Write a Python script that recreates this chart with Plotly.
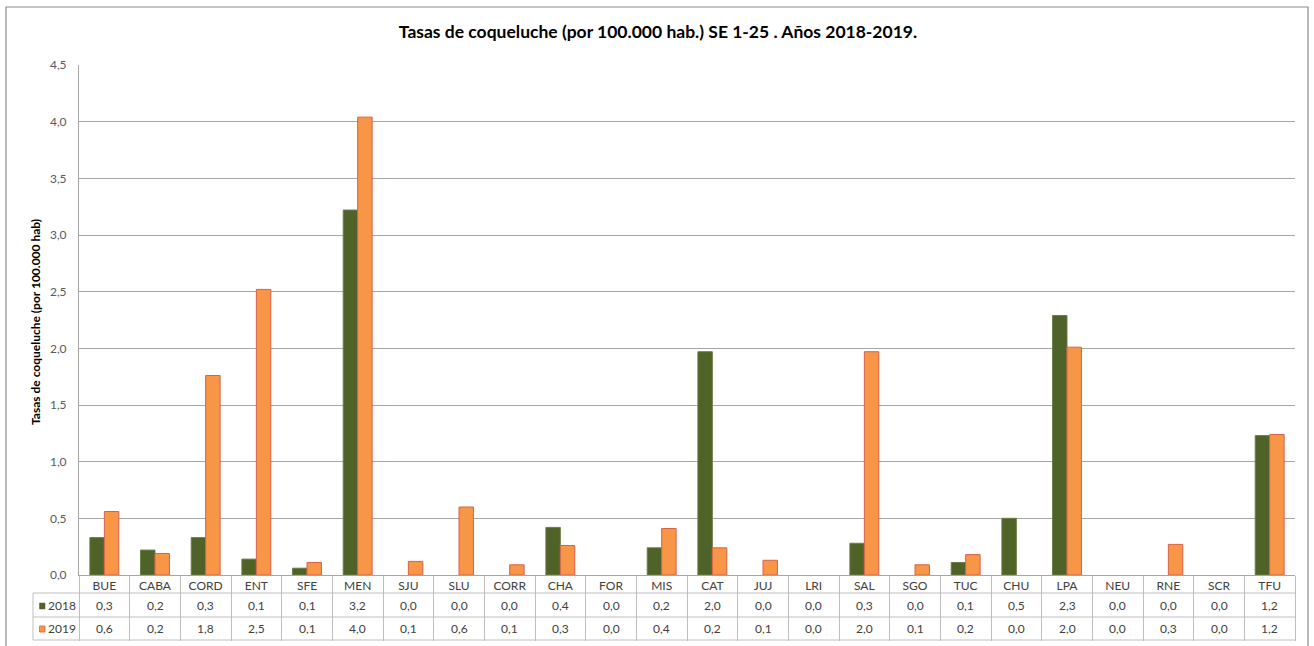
import plotly.graph_objects as go

categories = ["BUE", "CABA", "CORD", "ENT", "SFE", "MEN", "SJU", "SLU", "CORR", "CHA", "FOR", "MIS",
              "CAT", "JUJ", "LRI", "SAL", "SGO", "TUC", "CHU", "LPA", "NEU", "RNE", "SCR", "TFU"]
rates_2018 = [0.33, 0.22, 0.33, 0.14, 0.06, 3.22, 0, 0, 0, 0.42, 0, 0.24,
              1.97, 0, 0, 0.28, 0, 0.11, 0.50, 2.29, 0, 0, 0, 1.23]
rates_2019 = [0.56, 0.19, 1.76, 2.52, 0.11, 4.04, 0.12, 0.60, 0.09, 0.26, 0, 0.41,
              0.24, 0.13, 0, 1.97, 0.09, 0.18, 0, 2.01, 0, 0.27, 0, 1.24]
series_names = ["2018", "2019"]
y_ticks = [0, 0.5, 1.0, 1.5, 2.0, 2.5, 3.0, 3.5, 4.0, 4.5]

GREEN = "#4F6228"
ORANGE = "#F79646"
FONT = "Lato"
TXT = "#404040"

fig = go.Figure()
fig.add_trace(go.Bar(x=categories, y=rates_2018, name=series_names[0],
                     marker=dict(color=GREEN,
                                 line=dict(color="#6b7d45", width=[0 if v == 0 else 1 for v in rates_2018]))))
fig.add_trace(go.Bar(x=categories, y=rates_2019, name=series_names[1],
                     marker=dict(color=ORANGE,
                                 line=dict(color="#d9604a", width=[0 if v == 0 else 1 for v in rates_2019]))))

W, H = 1314, 646
L, R, T, B = 79, 1295, 65, 575  # plot area in pixels


def px(x):
    return (x - L) / (R - L)


def py(y):
    return (B - y) / (B - T)


shapes = []
# outer chart border
shapes.append(dict(type="rect", xref="paper", yref="paper", x0=px(6), x1=px(1308), y0=py(660), y1=py(7),
                   line=dict(color="#8c8c8c", width=1.2), fillcolor="rgba(0,0,0,0)", layer="below"))
# data table horizontal lines
for yy in [593, 617, 640]:
    shapes.append(dict(type="line", xref="paper", yref="paper", x0=px(33), x1=1, y0=py(yy), y1=py(yy),
                       line=dict(color="#bfbfbf", width=1)))
shapes.append(dict(type="line", xref="paper", yref="paper", x0=px(33), x1=px(33), y0=py(593), y1=py(640),
                   line=dict(color="#bfbfbf", width=1)))
# legend keys
shapes.append(dict(type="rect", xref="paper", yref="paper", x0=px(39.5), x1=px(45), y0=py(609), y1=py(603),
                   fillcolor=GREEN, line=dict(color=GREEN, width=0.5)))
shapes.append(dict(type="rect", xref="paper", yref="paper", x0=px(39.5), x1=px(45), y0=py(632), y1=py(626),
                   fillcolor=ORANGE, line=dict(color="#d9604a", width=0.8)))

annotations = []
row_y = [py(605), py(628.5)]
for name, ry in zip(series_names, row_y):
    annotations.append(dict(text=name, xref="paper", yref="paper", x=px(46), y=ry, xanchor="left",
                            yanchor="middle", showarrow=False, font=dict(family=FONT, size=12, color=TXT)))
for vals, ry in zip([rates_2018, rates_2019], row_y):
    for c, v in zip(categories, vals):
        annotations.append(dict(text=f"{v:.1f}".replace(".", ","), xref="x", yref="paper", x=c, y=ry,
                                xanchor="center", yanchor="middle", showarrow=False,
                                font=dict(family=FONT, size=12, color=TXT)))
# y-axis title
annotations.append(dict(text="<b>Tasas de coqueluche (por 100.000 hab)</b>", xref="paper", yref="paper",
                        x=px(35), y=py(322), textangle=-90, showarrow=False, xanchor="center",
                        yanchor="middle", font=dict(family=FONT, size=12, color="#000000")))

fig.update_layout(
    width=W, height=H,
    margin=dict(l=L, r=W - R, t=T, b=H - B),
    paper_bgcolor="white", plot_bgcolor="white",
    separators=",.",
    showlegend=False,
    barmode="group", bargap=0.43, bargroupgap=0,
    hovermode=False,
    title=dict(text="<b>Tasas de coqueluche (por 100.000 hab.) SE 1-25 . Años 2018-2019.</b>",
               x=658 / W, xref="container", xanchor="center", y=1 - 32 / H, yref="container",
               yanchor="middle", font=dict(family=FONT, size=17.5, color="#000000")),
    shapes=shapes,
    annotations=annotations,
)
fig.update_xaxes(type="category", showgrid=False, showline=True, linecolor="#a6a6a6", linewidth=1,
                 ticks="outside", tickson="boundaries", ticklen=65, tickcolor="#bfbfbf", tickwidth=1,
                 tickfont=dict(family=FONT, size=12, color=TXT), ticklabelstandoff=0, automargin=False,
                 range=[-0.5, len(categories) - 0.5])
fig.update_yaxes(range=[0, 4.5], tickvals=y_ticks, tickformat=".1f", showgrid=True, gridcolor="#a6a6a6",
                 gridwidth=1, showline=True, linecolor="#a6a6a6", linewidth=1, zeroline=False,
                 tickfont=dict(family=FONT, size=12, color="#595959"), ticks="", ticklabelstandoff=9,
                 automargin=False)

fig.write_html("out.html", config={"displayModeBar": False},
               post_script="document.body.style.margin='0';document.body.style.overflow='hidden';")
